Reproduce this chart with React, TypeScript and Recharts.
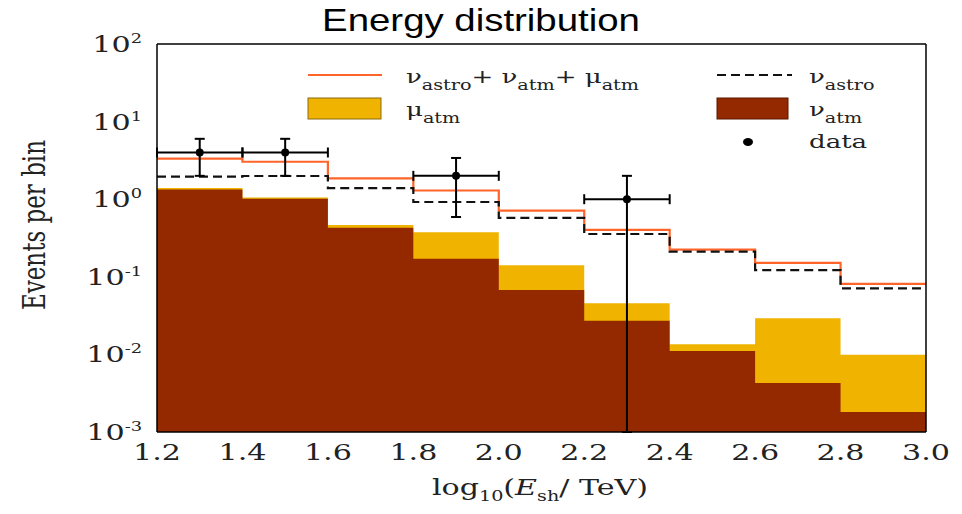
import React from 'react';
import { ComposedChart, Area, Line, Scatter, XAxis, YAxis, ErrorBar } from 'recharts';

// ---- data ----
const binEdges = [1.2, 1.4, 1.6, 1.8, 2.0, 2.2, 2.4, 2.6, 2.8, 3.0];
const nuAstro = [1.95, 1.99, 1.39, 0.92, 0.573, 0.356, 0.211, 0.122, 0.071];
const nuAtm = [1.33, 1.01, 0.43, 0.171, 0.0676, 0.0272, 0.0111, 0.00428, 0.00181];
const muAtm = [0.06, 0.04, 0.036, 0.203, 0.0734, 0.0183, 0.0024, 0.0249, 0.0081];

const dataX = [1.3, 1.5, 1.9, 2.3];
const dataY = [4, 4, 2, 1];
const dataLow = [2, 2, 0.59, 0.001];
const dataHigh = [6, 6, 3.4, 2];
const dataXHalfWidth = [0.1, 0.1, 0.1, 0.1];

const xMajorTicks = [1.2, 1.4, 1.6, 1.8, 2.0, 2.2, 2.4, 2.6, 2.8, 3.0];
const xTickLabels = ['1.2', '1.4', '1.6', '1.8', '2.0', '2.2', '2.4', '2.6', '2.8', '3.0'];
const xMinorTicks = [1.3, 1.5, 1.7, 1.9, 2.1, 2.3, 2.5, 2.7, 2.9];
const yMajorTicks = [0.001, 0.01, 0.1, 1, 10, 100];
const yTickExponents = ['-3', '-2', '-1', '0', '1', '2'];
const yMinorMantissas = [2, 3, 4, 5, 6, 7, 8, 9];
const yDecades = [0.001, 0.01, 0.1, 1, 10];
const yMinorTicks = yDecades.flatMap((d) => yMinorMantissas.map((m) => m * d));

// ---- derived tables ----
const stepRows = binEdges.map((x, i) => {
  const b = Math.min(i, nuAtm.length - 1);
  return {
    x,
    nuAtm: nuAtm[b],
    atmTotal: nuAtm[b] + muAtm[b],
    nuAstro: nuAstro[b],
    total: nuAstro[b] + nuAtm[b] + muAtm[b],
  };
});

const points = dataX.map((x, i) => ({
  x,
  y: dataY[i],
  errY: [dataY[i] - dataLow[i], dataHigh[i] - dataY[i]],
  errX: [dataXHalfWidth[i], dataXHalfWidth[i]],
}));

const ORANGE = '#ff6428';
const DARKRED = '#942900';
const YELLOW = '#f0b400';
const SERIF = 'DejaVu Serif';
const SX = 1.37;

const XTick = (props: any) => {
  const { x, y, index } = props;
  return (
    <g transform={`translate(${x},${y}) scale(${SX},1)`}>
      <text x={0} y={28} textAnchor="middle" fontFamily={SERIF} fontSize={22} fill="#222">
        {xTickLabels[index]}
      </text>
    </g>
  );
};

const YTick = (props: any) => {
  const { x, y, index } = props;
  return (
    <g transform={`translate(${x},${y}) scale(${SX},1)`}>
      <text x={0} y={8} textAnchor="end" fontFamily={SERIF} fontSize={22} fill="#222">
        10
        <tspan dy={-9} fontSize={13}>
          {yTickExponents[index]}
        </tspan>
      </text>
    </g>
  );
};

const axisStroke = { stroke: '#000', strokeWidth: 1.5 };
const SUB = 14;
const SD = 7;

export default function App() {
  return (
    <div style={{ position: 'absolute', left: 0, top: 0, width: 962, height: 514, background: '#fff' }}>
      <ComposedChart
        width={962}
        height={514}
        data={stepRows}
        margin={{ top: 44, right: 36, bottom: 42, left: 57 }}
      >
        {/* label axes */}
        <XAxis
          xAxisId="main"
          dataKey="x"
          type="number"
          domain={[1.2, 3.0]}
          allowDataOverflow
          ticks={xMajorTicks}
          interval={0}
          height={40}
          axisLine={false}
          tickLine={false}
          tickSize={0}
          tickMargin={0}
          tick={(p: any) => <XTick {...p} />}
        />
        <YAxis
          yAxisId="main"
          type="number"
          scale="log"
          domain={[0.001, 100]}
          allowDataOverflow
          ticks={yMajorTicks}
          interval={0}
          width={100}
          axisLine={false}
          tickLine={false}
          tickSize={0}
          tickMargin={15}
          tick={(p: any) => <YTick {...p} />}
        />
        {/* inward frame ticks */}
        <XAxis xAxisId="bMaj" orientation="bottom" mirror type="number" domain={[1.2, 3.0]} allowDataOverflow ticks={xMajorTicks} interval={0} height={1} tick={false} tickSize={8} axisLine={axisStroke} tickLine={axisStroke} />
        <XAxis xAxisId="bMin" orientation="bottom" mirror type="number" domain={[1.2, 3.0]} allowDataOverflow ticks={xMinorTicks} interval={0} height={1} tick={false} tickSize={4} axisLine={false} tickLine={axisStroke} />
        <XAxis xAxisId="tMaj" orientation="top" mirror type="number" domain={[1.2, 3.0]} allowDataOverflow ticks={xMajorTicks} interval={0} height={1} tick={false} tickSize={8} axisLine={axisStroke} tickLine={axisStroke} />
        <XAxis xAxisId="tMin" orientation="top" mirror type="number" domain={[1.2, 3.0]} allowDataOverflow ticks={xMinorTicks} interval={0} height={1} tick={false} tickSize={4} axisLine={false} tickLine={axisStroke} />
        <YAxis yAxisId="lMaj" orientation="left" mirror type="number" scale="log" domain={[0.001, 100]} allowDataOverflow ticks={yMajorTicks} interval={0} width={1} tick={false} tickSize={13} axisLine={axisStroke} tickLine={axisStroke} />
        <YAxis yAxisId="lMin" orientation="left" mirror type="number" scale="log" domain={[0.001, 100]} allowDataOverflow ticks={yMinorTicks} interval={0} width={1} tick={false} tickSize={7} axisLine={false} tickLine={axisStroke} />
        <YAxis yAxisId="rMaj" orientation="right" mirror type="number" scale="log" domain={[0.001, 100]} allowDataOverflow ticks={yMajorTicks} interval={0} width={1} tick={false} tickSize={13} axisLine={axisStroke} tickLine={axisStroke} />
        <YAxis yAxisId="rMin" orientation="right" mirror type="number" scale="log" domain={[0.001, 100]} allowDataOverflow ticks={yMinorTicks} interval={0} width={1} tick={false} tickSize={7} axisLine={false} tickLine={axisStroke} />

        <Area xAxisId="main" yAxisId="main" type="stepAfter" dataKey="atmTotal" baseValue="dataMin" stroke="none" fill={YELLOW} fillOpacity={1} isAnimationActive={false} />
        <Area xAxisId="main" yAxisId="main" type="stepAfter" dataKey="nuAtm" baseValue="dataMin" stroke="none" fill={DARKRED} fillOpacity={1} isAnimationActive={false} />
        <Line xAxisId="main" yAxisId="main" type="stepAfter" dataKey="total" stroke={ORANGE} strokeWidth={2.2} dot={false} activeDot={false} isAnimationActive={false} />
        <Line xAxisId="main" yAxisId="main" type="stepAfter" dataKey="nuAstro" stroke="#111" strokeWidth={2.2} strokeDasharray="9 5" dot={false} activeDot={false} isAnimationActive={false} />
        <Scatter
          xAxisId="main"
          yAxisId="main"
          data={points}
          dataKey="y"
          isAnimationActive={false}
          shape={(p: any) => <circle cx={p.cx} cy={p.cy} r={4} fill="#000" />}
        >
          <ErrorBar dataKey="errY" direction="y" width={5} stroke="#000" strokeWidth={2} isAnimationActive={false} />
          <ErrorBar dataKey="errX" direction="x" width={5} stroke="#000" strokeWidth={2} isAnimationActive={false} />
        </Scatter>
      </ComposedChart>

      <svg
        width={962}
        height={514}
        style={{ position: 'absolute', left: 0, top: 0, pointerEvents: 'none' }}
      >
        {/* title */}
        <g transform={`translate(481,31) scale(1.2,1)`}>
          <text x={0} y={0} textAnchor="middle" fontFamily="Liberation Sans, Arial" fontSize={32} fill="#000">
            Energy distribution
          </text>
        </g>
        {/* y title */}
        <g transform={`translate(45,225) scale(${SX},1) rotate(-90)`}>
          <text x={0} y={0} textAnchor="middle" fontFamily={SERIF} fontSize={23} fill="#222">
            Events per bin
          </text>
        </g>
        {/* x title */}
        <g transform={`translate(540,495) scale(${SX},1)`}>
          <text x={0} y={0} textAnchor="middle" fontFamily={SERIF} fontSize={22} fill="#222">
            log<tspan dy={6} fontSize={14}>10</tspan><tspan dy={-6}>(</tspan><tspan fontStyle="italic">E</tspan><tspan dy={6} fontSize={14}>sh</tspan><tspan dy={-6}>/ TeV)</tspan>
          </text>
        </g>

        {/* legend */}
        <line x1={308} x2={382} y1={75} y2={75} stroke={ORANGE} strokeWidth={2.2} />
        <g transform={`translate(406,83) scale(${SX},1)`}>
          <text x={0} y={0} fontFamily={SERIF} fontSize={19} fill="#222">
            ν<tspan dy={SD} fontSize={SUB}>astro</tspan><tspan dy={-SD}>+ ν</tspan><tspan dy={SD} fontSize={SUB}>atm</tspan><tspan dy={-SD}>+ μ</tspan><tspan dy={SD} fontSize={SUB}>atm</tspan>
          </text>
        </g>
        <rect x={308} y={98} width={73} height={21} fill={YELLOW} stroke="#8a6a10" strokeWidth={1} />
        <g transform={`translate(406,116) scale(${SX},1)`}>
          <text x={0} y={0} fontFamily={SERIF} fontSize={19} fill="#222">
            μ<tspan dy={SD} fontSize={SUB}>atm</tspan>
          </text>
        </g>
        <line x1={717} x2={792} y1={75} y2={75} stroke="#111" strokeWidth={2.2} strokeDasharray="9 5" />
        <g transform={`translate(809,83) scale(${SX},1)`}>
          <text x={0} y={0} fontFamily={SERIF} fontSize={19} fill="#222">
            ν<tspan dy={SD} fontSize={SUB}>astro</tspan>
          </text>
        </g>
        <rect x={717} y={98} width={71} height={21} fill={DARKRED} stroke="#5a1800" strokeWidth={1} />
        <g transform={`translate(809,116) scale(${SX},1)`}>
          <text x={0} y={0} fontFamily={SERIF} fontSize={19} fill="#222">
            ν<tspan dy={SD} fontSize={SUB}>atm</tspan>
          </text>
        </g>
        <ellipse cx={748} cy={142} rx={5} ry={4} fill="#000" />
        <g transform={`translate(809,148) scale(${SX},1)`}>
          <text x={0} y={0} fontFamily={SERIF} fontSize={19} fill="#222">
            data
          </text>
        </g>
      </svg>
    </div>
  );
}
